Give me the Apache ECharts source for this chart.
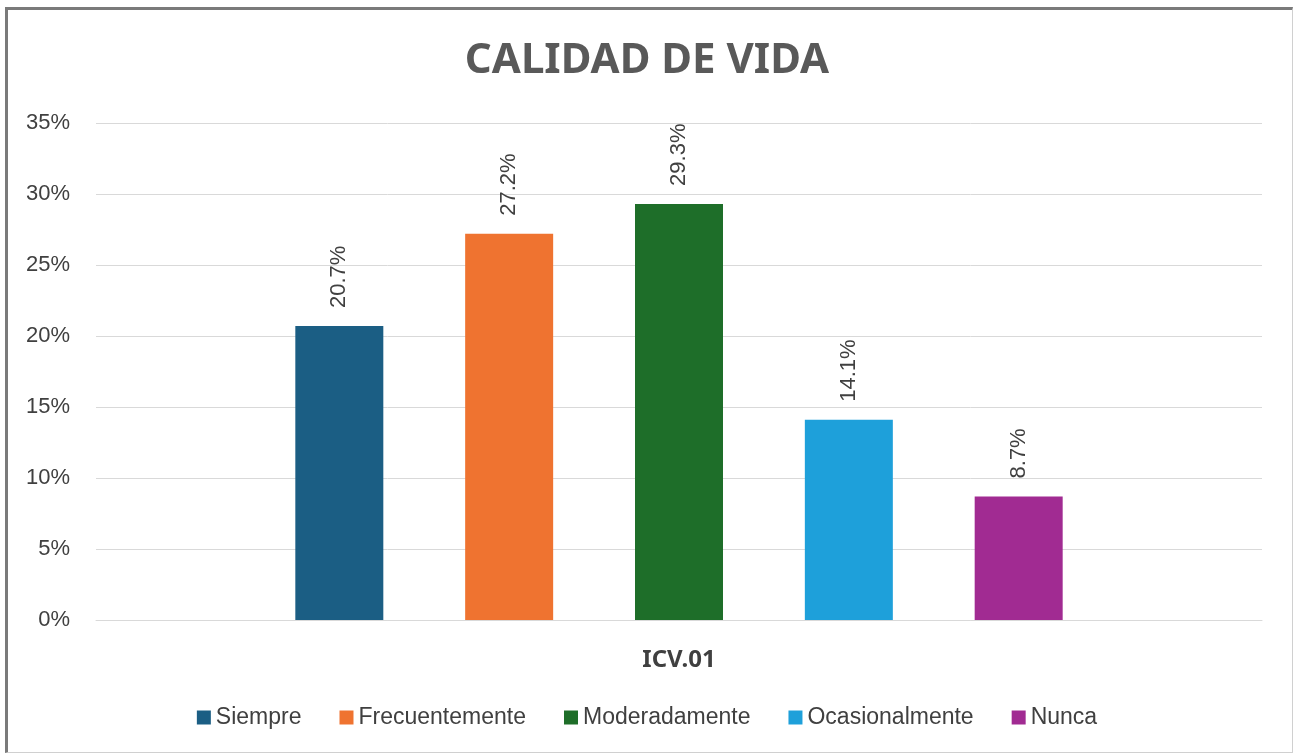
<!DOCTYPE html>
<html>
<head>
<meta charset="utf-8">
<script src="https://cdn.jsdelivr.net/npm/echarts@6/dist/echarts.min.js"></script>
<style>
  html, body { margin: 0; padding: 0; background: #fff; }
  #chart { width: 1294px; height: 756px; }
  #frame {
    position: absolute; left: 5px; top: 7px; width: 1284px; height: 742px;
    border-top: 3px solid #7a7a7a; border-left: 3px solid #7a7a7a;
    border-right: 1px solid #d0d0d0; border-bottom: 1px solid #d0d0d0;
    pointer-events: none;
  }
</style>
</head>
<body>
<div id="chart"></div>
<div id="frame"></div>
<script>
const categories = ["ICV.01"];
const seriesNames = ["Siempre", "Frecuentemente", "Moderadamente", "Ocasionalmente", "Nunca"];
const seriesValues = [20.7, 27.2, 29.3, 14.1, 8.7];
const seriesColors = ["#1b5e84", "#ef7330", "#1e6e29", "#1ea0da", "#a12b92"];
const yTicks = { min: 0, max: 35, interval: 5 };

const chart = echarts.init(document.getElementById("chart"));

const series = seriesNames.map((name, i) => ({
  name: name,
  type: "bar",
  data: [seriesValues[i]],
  barWidth: 88,
  barGap: "93%",
  itemStyle: { color: seriesColors[i] },
  label: {
    show: true,
    position: "top",
    rotate: 90,
    align: "left",
    verticalAlign: "middle",
    distance: 18,
    formatter: (p) => p.value.toFixed(1) + "%",
    color: "#404040",
    fontSize: 22,
    fontFamily: "Liberation Sans"
  }
}));

const option = {
  animation: false,
  backgroundColor: "#fff",
  title: {
    text: "CALIDAD DE VIDA",
    left: "center",
    top: 35,
    textStyle: {
      color: "#595959",
      fontSize: 42,
      fontWeight: "bold",
      fontFamily: "Noto Sans"
    }
  },
  legend: {
    bottom: 22,
    left: "center",
    itemWidth: 14,
    itemHeight: 14,
    itemGap: 38,
    icon: "rect",
    textStyle: {
      color: "#404040",
      fontSize: 23,
      fontFamily: "Liberation Sans"
    },
    data: seriesNames
  },
  grid: { left: 96, right: 32, top: 123, bottom: 136 },
  xAxis: {
    type: "category",
    data: categories,
    axisTick: { show: false },
    axisLine: { lineStyle: { color: "#d9d9d9", width: 1 } },
    axisLabel: {
      margin: 28,
      color: "#404040",
      fontSize: 24,
      fontWeight: "bold",
      fontFamily: "Noto Sans"
    }
  },
  yAxis: {
    type: "value",
    min: yTicks.min,
    max: yTicks.max,
    interval: yTicks.interval,
    axisLine: { show: false },
    axisTick: { show: false },
    splitLine: { lineStyle: { color: "#d9d9d9", width: 1 } },
    axisLabel: {
      formatter: "{value}%",
      color: "#404040",
      fontSize: 22,
      margin: 26,
      fontFamily: "Liberation Sans"
    }
  },
  series: series
};

chart.setOption(option);
</script>
</body>
</html>
